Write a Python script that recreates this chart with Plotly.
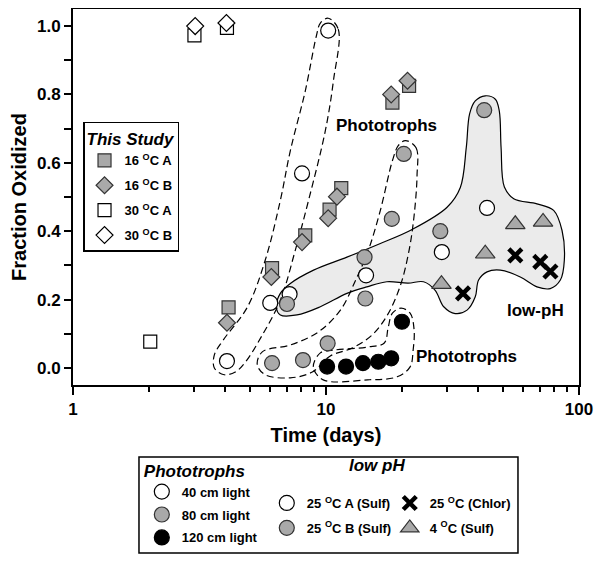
import plotly.graph_objects as go

# ---- This Study ----
a16_x = [4.12, 6.12, 8.28, 10.33, 11.49, 18.3, 21.3]
a16_y = [0.177, 0.292, 0.388, 0.463, 0.526, 0.776, 0.825]
b16_x = [4.06, 6.08, 8.04, 10.2, 11.05, 18.1, 21.0]
b16_y = [0.132, 0.266, 0.368, 0.438, 0.501, 0.800, 0.840]
a30_x = [2.02, 3.02, 4.06]
a30_y = [0.077, 0.973, 0.995]
b30_x = [3.04, 4.04]
b30_y = [1.000, 1.009]

# ---- Phototrophs ----
l40_x = [4.06, 6.02, 8.04, 10.2]
l40_y = [0.020, 0.190, 0.569, 0.987]
l80_x = [6.12, 8.11, 10.15, 14.3, 18.2, 20.3]
l80_y = [0.014, 0.023, 0.072, 0.203, 0.436, 0.626]
l120_x = [10.1, 12.0, 14.0, 16.1, 18.1, 19.96]
l120_y = [0.004, 0.004, 0.014, 0.018, 0.028, 0.135]

# ---- low pH ----
sulfA_x = [7.18, 14.4, 28.7, 43.3]
sulfA_y = [0.216, 0.271, 0.339, 0.468]
sulfB_x = [7.01, 14.2, 28.3, 42.2]
sulfB_y = [0.187, 0.324, 0.400, 0.754]
chlor_x = [34.8, 56.0, 70.3, 77.1]
chlor_y = [0.218, 0.329, 0.310, 0.282]
sulf4_x = [28.6, 42.6, 56.0, 72.1]
sulf4_y = [0.245, 0.334, 0.420, 0.427]

# ---- hand-drawn group outlines (data coords) ----
lowph_x = [6.36, 6.60, 7.23, 8.93, 12.1, 16.4, 21.9, 30.1, 33.96, 35.85, 36.95, 38.9,
           42.6, 46.7, 48.4, 49.2, 50.7, 55.2, 68.2, 79.4, 85.7, 87.5, 84.4, 77.0,
           68.2, 58.6, 48.9, 43.3, 40.1, 38.9, 36.1, 32.4, 29.2, 27.0, 24.3, 21.1,
           17.4, 14.5, 12.1, 9.5, 7.68, 6.60, 6.36]
lowph_y = [0.179, 0.218, 0.247, 0.286, 0.324, 0.364, 0.405, 0.470, 0.528, 0.645, 0.743, 0.781,
           0.796, 0.786, 0.752, 0.645, 0.529, 0.495, 0.480, 0.461, 0.402, 0.315, 0.257, 0.232,
           0.237, 0.266, 0.286, 0.281, 0.257, 0.208, 0.169, 0.159, 0.179, 0.227, 0.252, 0.248,
           0.252, 0.237, 0.218, 0.179, 0.155, 0.155, 0.179]

loop40_x = [10.2, 11.18, 10.7, 9.94, 8.53, 7.56, 6.60, 5.6, 4.80, 4.38, 3.96, 3.62,
            3.62, 3.93, 4.89, 5.75, 6.60, 7.23, 8.28, 9.16, 9.5, 10.2]
loop40_y = [1.023, 0.991, 0.840, 0.694, 0.490, 0.344, 0.198, 0.096, 0.017, -0.012, -0.020, 0.0,
            0.038, 0.082, 0.178, 0.315, 0.490, 0.636, 0.810, 0.971, 1.009, 1.023]

loop80_x = [20.6, 22.7, 22.9, 22.3, 21.3, 19.7, 17.5, 15.2, 12.7, 10.4, 8.83, 7.23,
            5.75, 5.35, 5.60, 7.23, 9.32, 11.4, 13.1, 14.7, 16.4, 18.3, 19.3, 20.6]
loop80_y = [0.665, 0.644, 0.563, 0.446, 0.344, 0.242, 0.155, 0.096, 0.058, 0.035, -0.012, -0.029,
            -0.020, 0.009, 0.047, 0.067, 0.105, 0.169, 0.257, 0.344, 0.461, 0.606, 0.650, 0.665]

loop120_x = [9.75, 8.91, 9.50, 10.69, 14.56, 17.0, 17.6, 18.3, 19.8, 21.5, 22.3, 22.1,
             21.5, 19.1, 14.6, 9.75]
loop120_y = [-0.035, 0.003, 0.044, 0.052, 0.061, 0.073, 0.117, 0.160, 0.175, 0.160, 0.111, 0.052,
             0.003, -0.026, -0.035, -0.035]

GRAY = '#a9a9a9'
EDGE = '#333333'
FONT = 'Liberation Sans, Arial, sans-serif'

fig = go.Figure()

# outlines first, so markers sit on top
fig.add_trace(go.Scatter(x=lowph_x, y=lowph_y, mode='lines', fill='toself',
                         fillcolor='#ebebeb', line=dict(color='black', width=1.2, shape='spline'),
                         showlegend=False, hoverinfo='skip'))
for lx, ly in [(loop40_x, loop40_y), (loop80_x, loop80_y), (loop120_x, loop120_y)]:
    fig.add_trace(go.Scatter(x=lx, y=ly, mode='lines',
                             line=dict(color='black', width=1.2, dash='7px,4px', shape='spline'),
                             showlegend=False, hoverinfo='skip'))


def pts(x, y, name, symbol, size, fill, legend, lw=1.2, lc=EDGE):
    return go.Scatter(x=x, y=y, mode='markers', name=name, legend=legend,
                      legendgroup=name,
                      marker=dict(symbol=symbol, size=size, color=fill,
                                  line=dict(color=lc, width=lw)))


fig.add_trace(pts(a16_x, a16_y, '16 <sup>O</sup>C A', 'square', 13, GRAY, 'legend'))
fig.add_trace(pts(b16_x, b16_y, '16 <sup>O</sup>C B', 'diamond', 13, GRAY, 'legend'))
fig.add_trace(pts(a30_x, a30_y, '30 <sup>O</sup>C A', 'square', 13, 'white', 'legend', lc='black'))
fig.add_trace(pts(b30_x, b30_y, '30 <sup>O</sup>C B', 'diamond', 13, 'white', 'legend', lc='black'))

fig.add_trace(pts(l40_x, l40_y, '40 cm light', 'circle', 15, 'white', 'legend2', lc='black'))
fig.add_trace(pts(l80_x, l80_y, '80 cm light', 'circle', 15, GRAY, 'legend2'))
fig.add_trace(pts(l120_x, l120_y, '120 cm light', 'circle', 15, 'black', 'legend2', lc='black'))

fig.add_trace(pts(sulfA_x, sulfA_y, '25 <sup>O</sup>C A (Sulf)', 'circle', 15, 'white', 'legend3', lc='black'))
fig.add_trace(pts(sulfB_x, sulfB_y, '25 <sup>O</sup>C B (Sulf)', 'circle', 15, GRAY, 'legend3'))
fig.add_trace(pts(chlor_x, chlor_y, '25 <sup>O</sup>C (Chlor)', 'x-thin', 13, 'black', 'legend4',
                  lw=4.5, lc='black'))
fig.add_trace(pts(sulf4_x, sulf4_y, '4 <sup>O</sup>C (Sulf)', 'triangle-up', 17, GRAY, 'legend4'))

# labels on the plot
lab = dict(xref='paper', yref='paper', showarrow=False, xanchor='center', yanchor='middle',
           font=dict(family=FONT, size=17, color='black', weight='bold'))
fig.add_annotation(x=0.619, y=0.689, text='Phototrophs', **lab)
fig.add_annotation(x=0.777, y=0.0745, text='Phototrophs', **lab)
fig.add_annotation(x=0.915, y=0.199, text='low-pH', **lab)
fig.add_annotation(x=0.601, y=-0.213, text='low pH', xref='paper', yref='paper', showarrow=False,
                   xanchor='center', yanchor='middle',
                   font=dict(family=FONT, size=17, color='black', weight='bold', style='italic'))

# box around the lower key
fig.add_shape(type='rect', xref='paper', yref='paper', x0=0.1304, x1=0.8794, y0=-0.447, y1=-0.1915,
              line=dict(color='black', width=1.5), fillcolor='white', layer='below')

item_font = dict(family=FONT, size=13, color='black', weight='bold')
title_font = dict(family=FONT, size=17, color='black', weight='bold', style='italic')
clear = 'rgba(0,0,0,0)'

fig.update_layout(
    width=604, height=562,
    # page body adds an 8px offset, so the margins are shifted to compensate
    margin=dict(l=65, r=33, t=1, b=185),
    paper_bgcolor='white', plot_bgcolor='white',
    font=dict(family=FONT, color='black'),
    xaxis=dict(type='log', range=[0, 2],
               tickvals=[1, 10, 100], ticktext=['1', '10', '100'],
               ticks='outside', ticklen=8, tickwidth=2, tickcolor='black',
               minor=dict(ticks='outside', ticklen=5, tickwidth=2, tickcolor='black',
                          tickvals=[2, 3, 4, 5, 6, 7, 8, 9, 20, 30, 40, 50, 60, 70, 80, 90]),
               showline=True, linewidth=2, linecolor='black', mirror=True,
               showgrid=False, zeroline=False, automargin=False,
               tickfont=dict(family=FONT, size=17, weight='bold'),
               title=dict(text='Time (days)', standoff=10,
                          font=dict(family=FONT, size=20, weight='bold'))),
    yaxis=dict(range=[-0.05, 1.05],
               tickvals=[0, 0.2, 0.4, 0.6, 0.8, 1.0],
               ticktext=['0.0', '0.2', '0.4', '0.6', '0.8', '1.0'],
               ticks='outside', ticklen=7, tickwidth=2, tickcolor='black',
               minor=dict(ticks='outside', ticklen=7, tickwidth=2, tickcolor='black',
                          tickvals=[0.1, 0.3, 0.5, 0.7, 0.9]),
               showline=True, linewidth=2, linecolor='black', mirror=True,
               showgrid=False, zeroline=False, automargin=False,
               tickfont=dict(family=FONT, size=17, weight='bold'),
               title=dict(text='Fraction Oxidized', standoff=6,
                          font=dict(family=FONT, size=20, weight='bold'))),
    legend=dict(x=0.0198, y=0.70, xanchor='left', yanchor='top',
                bgcolor='white', bordercolor='black', borderwidth=1.5,
                title=dict(text='This Study', font=title_font),
                font=item_font, tracegroupgap=5, itemsizing='trace'),
    legend2=dict(x=0.136, y=-0.185, xanchor='left', yanchor='top',
                 bgcolor=clear, borderwidth=0,
                 title=dict(text='Phototrophs', font=title_font),
                 font=item_font, tracegroupgap=3, itemsizing='trace'),
    legend3=dict(x=0.383, y=-0.274, xanchor='left', yanchor='top',
                 bgcolor=clear, borderwidth=0,
                 font=item_font, tracegroupgap=5, itemsizing='trace'),
    legend4=dict(x=0.626, y=-0.274, xanchor='left', yanchor='top',
                 bgcolor=clear, borderwidth=0,
                 font=item_font, tracegroupgap=5, itemsizing='trace'),
)

fig.write_html("out.html")
